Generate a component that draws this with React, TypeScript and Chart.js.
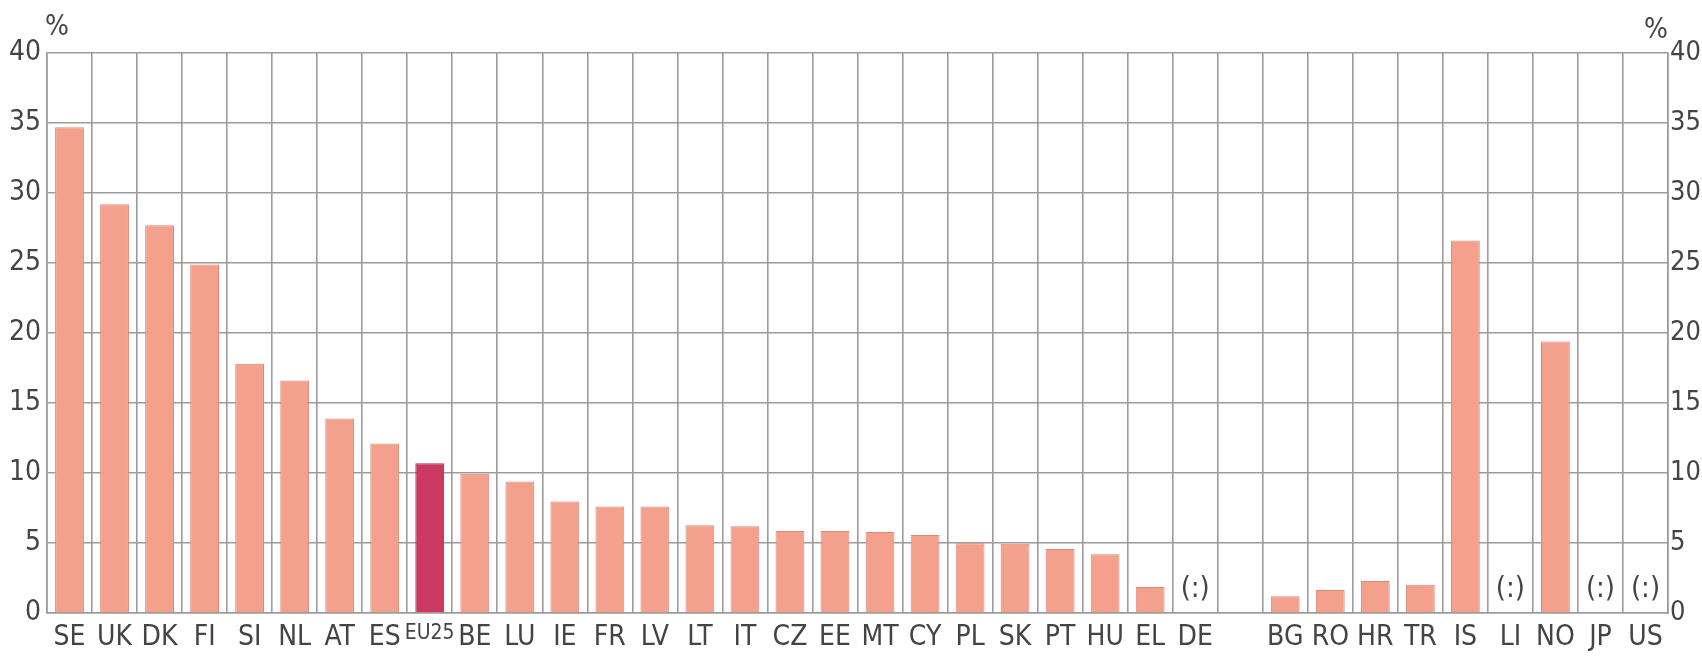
import { useEffect, useRef } from 'react';
import { Chart, registerables } from 'chart.js';

Chart.register(...registerables);

const categories = ["SE","UK","DK","FI","SI","NL","AT","ES","EU25","BE","LU","IE","FR","LV","LT","IT","CZ","EE","MT","CY","PL","SK","PT","HU","EL","DE","","BG","RO","HR","TR","IS","LI","NO","JP","US"];
const values: (number | null)[] = [34.7, 29.2, 27.7, 24.9, 17.8, 16.6, 13.9, 12.1, 10.7, 9.95, 9.4, 7.97, 7.6, 7.6, 6.26, 6.2, 5.85, 5.85, 5.78, 5.57, 4.98, 4.95, 4.57, 4.2, 1.86, null, null, 1.19, 1.64, 2.29, 2.02, 26.6, null, 19.4, null, null];
const notAvailable = ["DE", "LI", "JP", "US"];
const highlight = "EU25";
const yTicks = [0, 5, 10, 15, 20, 25, 30, 35, 40];
const unitLabel = "%";
const naLabel = "(:)";

const FONT = '"Liberation Sans Narrow", "DejaVu Sans Condensed", "Roboto", sans-serif';
const BASE = '#F3A08D';
const BASE_BORDER = '#D88978';
const HL = '#CB3862';
const HL_BORDER = '#A82A4D';
const GRID = '#9c9c9c';
const TICK = '#444444';

export default function App() {
  const ref = useRef<HTMLCanvasElement>(null);
  useEffect(() => {
    const overlay = {
      id: 'overlay',
      afterDraw(chart: any) {
        const { ctx, chartArea, scales } = chart;
        ctx.save();
        ctx.fillStyle = TICK;
        ctx.font = `28px ${FONT}`;
        ctx.textBaseline = 'middle';
        ctx.textAlign = 'center';
        ctx.fillText(unitLabel, chartArea.left + 10, chartArea.top - 25);
        ctx.fillText(unitLabel, chartArea.right - 12, chartArea.top - 22);
        ctx.font = `29px ${FONT}`;
        notAvailable.forEach((c) => {
          const i = categories.indexOf(c);
          const x = scales.x.getPixelForValue(i);
          const y = scales.y.getPixelForValue(1.65);
          ctx.fillText(naLabel, x, y);
        });
        ctx.restore();
      },
    };
    const chart = new Chart(ref.current!, {
      type: 'bar',
      data: {
        labels: categories,
        datasets: [
          {
            data: values as any,
            backgroundColor: categories.map((c) => (c === highlight ? HL : BASE)),
            borderColor: categories.map((c) => (c === highlight ? HL_BORDER : BASE_BORDER)),
            borderWidth: 1,
            categoryPercentage: 1,
            barPercentage: 0.64,
            yAxisID: 'y',
          },
        ],
      },
      options: {
        animation: false,
        responsive: false,
        layout: { padding: { top: 53, left: 0, right: 0, bottom: 0 } },
        plugins: { legend: { display: false }, tooltip: { enabled: false } },
        scales: {
          x: {
            grid: { color: GRID, lineWidth: 1.6, drawTicks: false, offset: true },
            border: { color: GRID, width: 1.6 },
            ticks: {
              color: TICK,
              autoSkip: false,
              maxRotation: 0,
              padding: 8,
              font: (c: any) => ({ family: FONT, size: c.tick && c.tick.label === highlight ? 21 : 28 }),
            },
            afterFit: (s: any) => { s.height = 43; },
          },
          y: {
            min: 0,
            max: 40,
            afterBuildTicks: (s: any) => { s.ticks = yTicks.map((v) => ({ value: v })); },
            grid: { color: GRID, lineWidth: 1.6, drawTicks: false },
            border: { color: GRID, width: 1.6 },
            ticks: { color: TICK, padding: 6, font: { family: FONT, size: 28 } },
            afterFit: (s: any) => { s.width = 47; },
          },
          y2: {
            position: 'right',
            min: 0,
            max: 40,
            afterBuildTicks: (s: any) => { s.ticks = yTicks.map((v) => ({ value: v })); },
            grid: { display: false, drawTicks: false },
            border: { color: GRID, width: 1.6 },
            ticks: { color: TICK, padding: 2, font: { family: FONT, size: 27 } },
            afterFit: (s: any) => { s.width = 34; },
          },
        },
      },
      plugins: [overlay],
    });
    return () => chart.destroy();
  }, []);
  return (
    <div style={{ position: 'absolute', left: 0, top: 0, width: 1702, height: 656, background: '#fff' }}>
      <canvas ref={ref} width={1702} height={656} />
    </div>
  );
}
